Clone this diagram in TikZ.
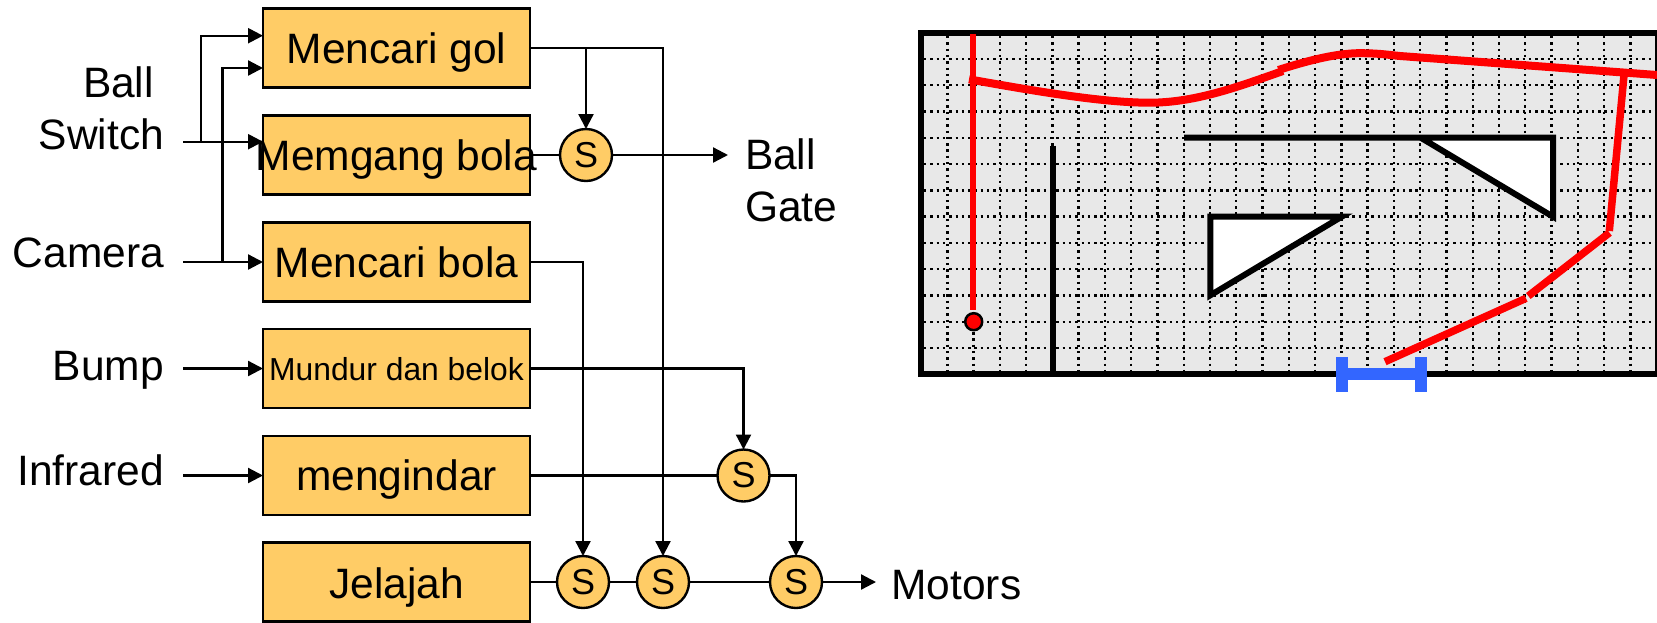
\documentclass[tikz,border=0pt]{standalone}
\usepackage{fontspec}
\setmainfont{Liberation Sans}
\usetikzlibrary{arrows.meta,calc}
\tikzset{
  box/.style={draw=black,fill=boxorange,line width=2.4pt,minimum width=267pt,minimum height=79pt,inner sep=0pt,outer sep=0pt,align=center,font=\fontsize{42.5}{42.5}\selectfont,text height=30pt,text depth=0pt},
  smallbox/.style={box,font=\fontsize{31.8}{32}\selectfont,text height=23pt},
  sw/.style={circle,draw=black,fill=boxorange,line width=2.4pt,minimum size=52pt,inner sep=0pt,outer sep=0pt,font=\fontsize{36}{36}\selectfont},
  lab/.style={inner sep=0pt,outer sep=0pt,font=\fontsize{42.5}{42.5}\selectfont},
  wire/.style={draw=black,line width=2.3pt},
  arr/.style={wire,-{Triangle[length=15pt,width=15pt]}},
  grid dots/.style={draw=black,line width=2.4pt,dash pattern=on 2.4pt off 3.9pt},
  wall/.style={draw=black,line width=6pt,line join=miter},
  path red/.style={draw=red,line width=7.5pt},
}
\definecolor{boxorange}{HTML}{FFCC66}
\definecolor{panelgrey}{HTML}{E8E8E8}
\definecolor{gateblue}{HTML}{3366FF}
\begin{document}
\begin{tikzpicture}[x=1pt,y=-1pt]
\useasboundingbox (0,0) rectangle (1657,622);
% behaviour boxes
\node[box] (gol) at (396.5,48) {Mencari gol};
\node[box] (gang) at (396.5,155) {\makebox[0pt][c]{Memgang bola}};
\node[box] (bola) at (396.5,262) {Mencari bola};
\node[smallbox] (mundur) at (396.5,368.5) {Mundur dan belok};
\node[box] (indar) at (396.5,475.5) {mengindar};
\node[box,text height=32pt] (jelajah) at (396.5,582) {Jelajah};
% suppressors
\node[sw] (s1) at (586,155) {S};
\node[sw] (st) at (743.5,475.5) {S};
\node[sw] (sa) at (583,582) {S};
\node[sw] (sb) at (663,582) {S};
\node[sw] (sc) at (796,582) {S};
% labels
\node[lab,anchor=base west] (lball) at (83,97.7) {Ball};
\node[lab,anchor=base east] (lswitch) at (164,149.7) {Switch};
\node[lab,anchor=base east] (lcamera) at (164,267) {Camera};
\node[lab,anchor=base east] (lbump) at (164,380) {Bump};
\node[lab,anchor=base east] (linfra) at (164,485) {Infrared};
\node[lab,anchor=base west] (lbg) at (745,169) {Ball};
\node[lab,anchor=base west] (lgate) at (745,221) {Gate};
\node[lab,anchor=base west] (lmotors) at (891.5,599) {Motors};
% free ends
\coordinate (inswitch) at (183,141.7);
\coordinate (incamera) at (183,262);
\coordinate (inbump) at (183,368.5);
\coordinate (ininfra) at (183,475.5);
\coordinate (outgate) at (728,155);
\coordinate (outmotors) at (876,582);
\coordinate (jswitch) at (201,141.7);
\coordinate (jcamera) at (222.5,262);
% inputs
\draw[arr] (inswitch) -- ($(gang.west)+(0,-13.3)$);
\draw[arr] (jswitch) |- ($(gol.west)+(0,-12.3)$);
\draw[arr] (incamera) -- (bola.west);
\draw[arr] (jcamera) |- ($(gol.west)+(0,20)$);
\draw[arr] (inbump) -- (mundur.west);
\draw[arr] (ininfra) -- (indar.west);
% outputs
\draw[arr] (gol.east) -| (sb.north);
\draw[arr] (gol.east -| s1.north) -- (s1.north);
\draw[wire] (gang.east) -- (s1.west);
\draw[arr] (s1.east) -- (outgate);
\draw[arr] (bola.east) -| (sa.north);
\draw[arr] (mundur.east) -| (st.north);
\draw[wire] (indar.east) -- (st.west);
\draw[arr] (st.east) -| (sc.north);
\draw[wire] (jelajah.east) -- (sa.west);
\draw[wire] (sa.east) -- (sb.west);
\draw[wire] (sb.east) -- (sc.west);
\draw[arr] (sc.east) -- (outmotors);
% arena
\fill[panelgrey] (921,33) rectangle (1658,374);
\begin{scope}
\clip (921,33) rectangle (1658,374);
\foreach \i in {0,...,26} \draw[grid dots] ({947.3+26.27*\i},36) -- ({947.3+26.27*\i},372);
\foreach \j in {0,...,11} \draw[grid dots] (924,{59+26.27*\j}) -- (1655,{59+26.27*\j});
\end{scope}
\draw[draw=black,line width=6pt] (921,33) rectangle (1658,374);
\draw[wall,line cap=butt] (1052.7,145.7) -- (1052.7,374);
\draw[wall,fill=white] (1184,137.7) -- (1553,137.7) -- (1553,216.7) -- (1420.7,137.7);
\draw[wall,fill=white] (1210.3,216.7) -- (1341.7,216.7) -- (1210.3,295.3) -- cycle;
% robot path
\draw[path red,line width=6pt] (973,34) -- (973,310);
\draw[draw=black,fill=red,line width=2.5pt] (973.7,321.7) circle (8.5);
\draw[path red,line width=8pt] (969,79.3) .. controls (1040,92) and (1105,103) .. (1152,102.7) .. controls (1198,102) and (1240,86) .. (1283,71);
\draw[path red,line width=8pt] (1278.3,70) .. controls (1310,60) and (1340,52) .. (1366.7,53.3) .. controls (1380,53.5) and (1390,55) .. (1400,56) -- (1657,75);
\draw[path red] (1624,75) -- (1609.3,231);
\draw[path red] (1609.5,232.7) -- (1528.3,296);
\draw[path red] (1526,298.3) -- (1385,361.7);
% gate
\draw[draw=gateblue,line width=12pt] (1341.7,357) -- (1341.7,392) (1420.5,357) -- (1420.5,392) (1341.7,374) -- (1420.5,374);
\end{tikzpicture}
\end{document}
